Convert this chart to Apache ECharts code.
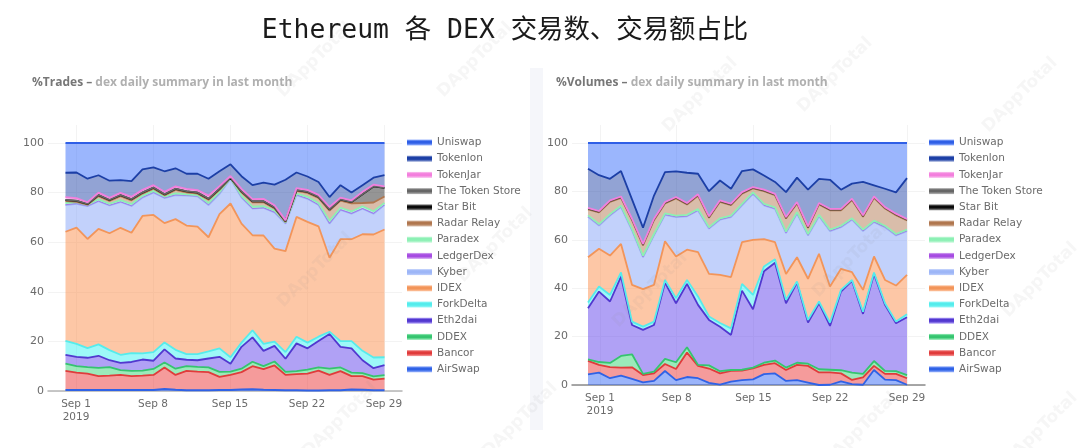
<!DOCTYPE html>
<html>
<head>
<meta charset="utf-8">
<style>
html,body{margin:0;padding:0;background:#fff;}
#chart{width:1080px;height:448px;}
</style>
<script src="https://cdn.jsdelivr.net/npm/echarts@6/dist/echarts.min.js"></script>
</head>
<body>
<div id="chart"></div>
<script>
var dates = ["2019-08-31","2019-09-01","2019-09-02","2019-09-03","2019-09-04","2019-09-05","2019-09-06","2019-09-07","2019-09-08","2019-09-09","2019-09-10","2019-09-11","2019-09-12","2019-09-13","2019-09-14","2019-09-15","2019-09-16","2019-09-17","2019-09-18","2019-09-19","2019-09-20","2019-09-21","2019-09-22","2019-09-23","2019-09-24","2019-09-25","2019-09-26","2019-09-27","2019-09-28","2019-09-29"];
var tickDates = ["2019-09-01","2019-09-08","2019-09-15","2019-09-22","2019-09-29"];
var tickLabels = ["Sep 1\n2019","Sep 8","Sep 15","Sep 22","Sep 29"];
var yTicks = [0,20,40,60,80,100];
var dexNames = ["AirSwap","Bancor","DDEX","Eth2dai","ForkDelta","IDEX","Kyber","LedgerDex","Paradex","Radar Relay","Star Bit","The Token Store","TokenJar","Tokenlon","Uniswap"];

// %Trades
var tradesAirSwap = [.4,.4,.4,.4,.4,.4,.4,.4,.4,.8,.5,.3,.3,.3,.4,.4,.6,.7,.5,.4,.3,.3,.2,.2,.3,.3,.6,.5,.3,.3];
var tradesBancor = [7.7,7,6.6,5.6,5.8,6.1,5.6,5.8,6.1,8.7,6,7.8,7.5,7.3,5.3,6.1,7,9.3,8.3,9.9,6.2,6.5,6.8,8,6.2,7.7,5.4,5.5,4.3,4.7];
var tradesDDEX = [2.9,2.6,2.6,3.3,3.4,1.9,2.1,2,2.4,2,2.5,1.9,1.9,1.9,2,1.3,1.4,1.8,1.2,1.6,1.2,1.2,1.6,1.3,2.5,1.5,1.4,1.2,1.3,1.4];
var tradesEth2dai = [3.6,3.8,3.8,4.9,2.8,2.9,3.6,4.5,3.3,5.3,4.1,2.6,2.7,3.6,6.1,3.2,8.8,9.8,6.2,6.3,5.3,11.2,8.6,10.7,14,8.3,9.8,5.2,3.3,4];
var tradesForkDelta = [5.6,5.2,3.9,4.6,4.1,3.3,3.6,2.5,3.5,2.8,3.5,2.3,2.5,2.9,3.4,2.6,1.7,2.9,2.8,1.7,2.7,2.7,2.3,1.7,.9,2.3,2.9,3.8,4.3,3.2];
var tradesIDEX = [44,46.9,44,46.6,47.1,51.2,48.5,55.4,55.3,48.1,52.7,51.8,51.4,46,54.1,62,48,38.3,43.7,37.5,40.7,48.3,48.7,44.5,29.8,41.1,41.1,47,49.6,51.5];
var tradesKyber = [10.8,9.6,13.2,11.1,11.2,10.4,10.8,7.4,9,10.1,9.7,12.1,12.2,13,8.2,9.9,10.5,10.7,11.1,14.6,11.1,8.8,9.3,8.6,13.8,11.8,10.3,10.3,8.4,9.9];
var tradesLedgerDex = [.1,.1,.1,.1,.1,.1,.1,.1,.1,.1,.1,.1,.1,.1,.1,.1,.1,.1,.1,.1,.1,.1,.1,.1,.1,.1,.1,.1,.1,.1];
var tradesParadex = [.7,.6,.5,.7,.6,.7,.7,.6,.6,.5,.6,.4,.4,.7,.6,.2,.6,.7,.6,.7,.4,.5,.7,.7,1,.8,.8,.9,.9,.7];
var tradesRadarRelay = [.8,.1,0,1.3,1.1,1.6,1.5,.9,.9,.5,1.4,.8,.6,1.3,.9,.1,1.4,1.8,1.6,.8,.2,1.1,1.6,2.1,4.1,2.9,3.3,1.3,3.5,2.6];
var tradesStarBit = [.4,.4,.3,.4,.4,.4,.4,.4,.4,.4,.4,.4,.4,.4,.4,.1,.4,.4,.4,.4,.3,.3,.4,.4,.5,.4,.5,3.5,6.5,3.5];
var tradesTokenStore = [.1,.1,.1,.1,.1,.1,.1,.1,.1,.1,.1,.1,.1,.1,.1,.1,.1,.1,.1,.1,.1,.1,.1,.1,.1,.1,.1,.1,.1,.1];
var tradesTokenJar = [1.1,1,.6,.9,.8,.8,.9,1,.9,.9,.9,.9,.9,1.2,1,.6,.9,.8,.9,.8,.3,.7,.7,.7,.9,.7,.6,.9,.6,.5];
var tradesTokenlon = [9.8,10.3,9.5,7,6.9,5.1,6.3,8.3,7.2,8.3,7.3,6.1,6.6,6.8,6,4.7,5.1,5.6,6.5,8.3,16.3,6.3,5.4,5.2,4,5,3.1,2.7,2.8,4.5];
var tradesUniswap = [12,11.9,14.5,13,15.2,15,15.4,10.6,9.8,11.4,10.2,12.4,12.4,14.4,11.4,8.6,13.4,17,16,16.8,14.8,11.9,13.5,15.7,21.8,17,20,17,14,13];

// %Volumes
var volumesAirSwap = [4.4,5.1,2.8,3.9,2.5,1.1,1.7,5.8,2,3.3,2.8,.9,.2,1.4,2,2.3,4.5,4.8,1.7,2,1,0,.1,1.5,.4,.1,6.2,2.2,2,.1];
var volumesBancor = [5.6,3.2,4.6,3.3,4.8,3,3.1,2.9,4.6,10.1,5.1,5.9,4.6,4.4,3.9,4.6,3.8,4.2,4.5,6.3,6.9,5.2,5.1,3.3,1.7,3.1,1.7,2.4,2.6,2.7];
var volumesDDEX = [.6,1.2,1.7,4.8,5.4,.5,.7,2.1,2.8,2.2,.4,1.3,.9,.4,.4,.3,.9,1.1,1,.9,.9,1.3,1.1,1.3,3,1.4,2,1.2,1.1,1.3];
var volumesEth2dai = [21.1,29.1,25.4,32.8,12.1,18.2,19.3,31.5,24.4,26.2,24.8,18.8,18.4,14.5,32.7,24.1,37.8,40.4,26.6,33.1,17,27.3,18.1,32.5,37.9,24.8,36,27.3,19.8,23.9];
var volumesForkDelta = [2.4,2.1,2.7,1.7,1.4,1.3,1.4,1.1,2.1,1.6,3.5,1.4,1.5,2.7,2.8,5.9,2,1.5,1.4,.5,1.1,.7,1.4,.7,.4,.9,.6,.7,.7,1.2];
var volumesIDEX = [18.7,15.6,16.3,11.8,15.2,15.5,15.2,16,17.2,12.5,18.3,17.6,19.9,21.2,17.2,22.8,11.3,7,10.7,10,17,19.7,14.9,8.7,3.2,9,6.6,9.6,14.9,16.3];
var volumesKyber = [16.7,9.6,16.5,15.2,22.5,13.2,20.4,10.9,16.3,13.8,17.2,18.7,22.8,24.8,15.2,19,13.9,13.8,16.9,18,17.9,15.5,22.9,17.2,21.7,24.3,14.2,21.8,20.7,18.1];
var volumesLedgerDex = [.1,.1,.1,.1,.1,.1,.1,.1,.1,.1,.1,.1,.1,.1,.1,.1,.1,.1,.1,.1,.1,.1,.1,.1,.1,.1,.1,.1,.1,.1];
var volumesParadex = [.5,.5,.5,.5,.5,.5,.5,.5,.5,.5,.5,.5,.5,.5,.5,.5,.5,.5,.5,.5,.5,.5,.5,.5,.5,.5,.5,.5,.5,.5];
var volumesRadarRelay = [2.5,4.8,5.1,3.2,3.6,4.3,5.7,4.1,7.1,4.3,5.5,3.9,6.8,4.3,4.3,1.6,5.3,5,5.4,3.6,2.5,4.3,8,6.4,7.5,5.3,9.4,7.1,7.8,3.8];
var volumesStarBit = [.1,.1,.1,.1,.1,.1,.1,.1,.1,.1,.1,.1,.1,.1,.1,.1,.1,.1,.1,.1,.1,.1,.1,.1,.1,.1,.1,.1,.1,.1];
var volumesTokenStore = [0,0,0,0,0,0,0,0,0,0,0,0,0,0,0,0,0,0,0,0,0,0,0,0,0,0,0,0,0,0];
var volumesTokenJar = [.5,.5,.5,.5,.5,.5,.5,.5,.5,.5,.5,.5,.5,.5,.5,.5,.5,.5,.5,.5,.5,.5,.5,.5,.5,.5,.5,.5,.5,.5];
var volumesTokenlon = [16.2,14.8,8.9,10.5,8,6.7,9.6,12.4,10.6,12.5,8.5,10.4,8.2,6.2,8.7,7.3,5.9,4.9,10.3,10.1,15.2,10,12,7.9,6.2,13.8,4.6,7.6,8.8,16.9];
var volumesUniswap = [10.6,13.3,14.8,11.6,23.3,35,21.7,12,11.7,12.3,12.7,19.9,15.5,18.9,11.6,10.9,13.4,16.1,20.3,14.3,19.3,14.8,15.2,19.3,16.8,16.1,17.5,18.9,20.4,14.5];

var tradesData = [tradesAirSwap,tradesBancor,tradesDDEX,tradesEth2dai,tradesForkDelta,tradesIDEX,tradesKyber,tradesLedgerDex,tradesParadex,tradesRadarRelay,tradesStarBit,tradesTokenStore,tradesTokenJar,tradesTokenlon,tradesUniswap];
var volumesData = [volumesAirSwap,volumesBancor,volumesDDEX,volumesEth2dai,volumesForkDelta,volumesIDEX,volumesKyber,volumesLedgerDex,volumesParadex,volumesRadarRelay,volumesStarBit,volumesTokenStore,volumesTokenJar,volumesTokenlon,volumesUniswap];

var lineColors = ["#2f62e6","#e03b3b","#35c46f","#5238cf","#55ecec","#f2955a","#9db6f7","#a64be2","#8cf0b4","#b0764e","#0a0a0a","#666666","#f37fdd","#1c3fa6","#2f5fe6"];
var fillColors = ["#2f62f5","#ea2e2e","#2fd46f","#5a3bea","#33f0f0","#fb8a44","#7f9ff7","#a64be2","#8cf0b4","#b0764e","#222222","#666666","#f37fdd","#1c3fa6","#2f66fa"];

// position of a labelled day on the frame axes
var tickIndexes = tickDates.map(function(d){
	return dates.indexOf(d);
});
var fontFamily = "'DejaVu Sans',sans-serif";

function makeSeries(data,axisIndex){
	var list = [];
	for(var i=0;i<dexNames.length;i++){
		var width = 1.8;
		if(dexNames[i]=="LedgerDex"){
			width = 0.6;
		}
		if(axisIndex==3 && (dexNames[i]=="Star Bit" || dexNames[i]=="The Token Store")){
			width = 0.5;
		}
		list.push({
			name:dexNames[i],
			type:"line",
			stack:"dex"+axisIndex,
			xAxisIndex:axisIndex,
			yAxisIndex:axisIndex,
			symbol:"none",
			smooth:false,
			lineStyle:{color:lineColors[i],width:width},
			itemStyle:{color:lineColors[i]},
			areaStyle:{color:fillColors[i],opacity:0.48},
			data:data[i]
		});
	}
	return list;
}

function makeLegend(left){
	var items = [];
	for(var i=dexNames.length-1;i>=0;i--){
		items.push({
			name:dexNames[i],
			itemStyle:{
				color:{type:"linear",x:0,y:0,x2:0,y2:1,colorStops:[
					{offset:0,color:fillColors[i]+"77"},
					{offset:0.3,color:lineColors[i]},
					{offset:0.6,color:lineColors[i]},
					{offset:1,color:fillColors[i]+"77"}
				]}
			}
		});
	}
	return {
		orient:"vertical",
		left:left,
		top:137,
		padding:0,
		icon:"rect",
		itemWidth:25,
		itemHeight:6,
		itemGap:5.2,
		selectedMode:false,
		textStyle:{fontFamily:fontFamily,fontSize:10.5,color:"#6b6b6b"},
		data:items
	};
}

// frame axes: wider than the data, they carry the labels and the grid lines
function makeFrameX(index){
	return {
		type:"value",
		gridIndex:index,
		min:-1.55,
		max:dates.length-1+1.64,
		axisLine:{show:true,onZero:false,lineStyle:{color:index==0?"#b5b5b5":"#8a8a8a",width:1.5}},
		axisTick:{show:false,customValues:tickIndexes},
		splitLine:{show:true,lineStyle:{color:"#f3f3f3",width:1}},
		axisLabel:{
			customValues:tickIndexes,
			hideOverlap:false,
			margin:7,
			fontFamily:fontFamily,
			fontSize:10.5,
			lineHeight:13,
			color:"#6b6b6b",
			formatter:function(value){
				return tickLabels[tickIndexes.indexOf(value)];
			}
		}
	};
}

function makeFrameY(index,max){
	return {
		type:"value",
		gridIndex:index,
		min:0,
		max:max,
		axisLine:{show:false},
		axisTick:{show:false,customValues:yTicks},
		splitLine:{show:true,lineStyle:{color:"#f3f3f3",width:1}},
		axisLabel:{
			customValues:yTicks,
			margin:4,
			fontFamily:fontFamily,
			fontSize:11,
			color:"#6b6b6b"
		}
	};
}

// data axes: hidden, the stacked areas are drawn on these
function makeDataX(index){
	return {type:"category",gridIndex:index,boundaryGap:false,data:dates,show:false};
}

function makeDataY(index){
	return {type:"value",gridIndex:index,min:0,max:100,show:false};
}

function panelTitle(left,bold,rest){
	return {
		type:"text",
		left:left,
		top:77,
		z:5,
		style:{
			rich:{
				a:{fontFamily:"'Open Sans',sans-serif",fontSize:12,fontWeight:"bold",fill:"#777777"},
				b:{fontFamily:"'Open Sans',sans-serif",fontSize:12,fontWeight:"bold",fill:"#b0b0b0"}
			},
			text:"{a|"+bold+" – }{b|"+rest+"}"
		}
	};
}

function watermark(x,y){
	return {
		type:"text",
		x:x,
		y:y,
		rotation:Math.PI/4,
		z:20,
		silent:true,
		style:{text:"DAppTotal",fontFamily:fontFamily,fontSize:17,fontWeight:"bold",fill:"rgba(140,140,140,0.08)",align:"center",verticalAlign:"middle"}
	};
}

var graphics = [
	{type:"rect",shape:{x:530,y:68,width:13,height:362},style:{fill:"#f5f6fa"},z:0},
	{
		type:"text",
		x:505,
		y:31,
		z:5,
		style:{
			text:"Ethereum 各 DEX 交易数、交易额占比",
			fontFamily:"'DejaVu Sans Mono','Noto Sans CJK SC',monospace",
			fontSize:26.4,
			fill:"#1a1a1a",
			align:"center",
			verticalAlign:"middle"
		}
	},
	panelTitle(32,"%Trades","dex daily summary in last month"),
	panelTitle(556,"%Volumes","dex daily summary in last month"),
	watermark(315,270),watermark(495,245),watermark(315,60),watermark(475,60),
	watermark(650,290),watermark(700,95),watermark(835,75),watermark(1020,95),
	watermark(850,260),watermark(1040,280),watermark(340,420),watermark(520,420),watermark(860,430),watermark(1040,430)
];

var chart = echarts.init(document.getElementById("chart"),null,{renderer:"canvas"});
chart.setOption({
	animation:false,
	backgroundColor:"#ffffff",
	graphic:graphics,
	legend:[makeLegend(407),makeLegend(929)],
	grid:[
		{left:48,width:354,top:125,height:266},
		{left:572,width:353,top:125,height:260},
		{left:65.5,width:319,top:143,height:248},
		{left:588,width:319,top:143,height:242}
	],
	xAxis:[makeFrameX(0),makeFrameX(1),makeDataX(2),makeDataX(3)],
	yAxis:[makeFrameY(0,107.26),makeFrameY(1,107.44),makeDataY(2),makeDataY(3)],
	series:makeSeries(tradesData,2).concat(makeSeries(volumesData,3))
});
</script>
</body>
</html>
